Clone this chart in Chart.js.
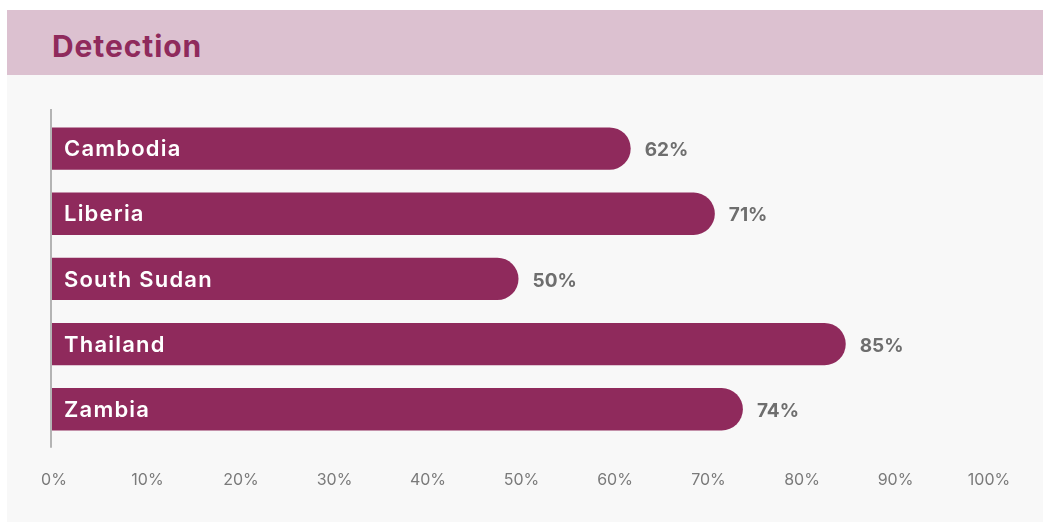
<!DOCTYPE html>
<html>
<head>
<meta charset="utf-8">
<script src="https://cdn.jsdelivr.net/npm/chart.js@4/dist/chart.umd.min.js"></script>
<style>
  html, body { margin: 0; padding: 0; background: #ffffff; }
  #panel {
    position: absolute; left: 7px; top: 10px; width: 1036px; height: 512px;
    background: #f8f8f8;
  }
  #header {
    height: 65px; background: #dcc1d0; position: relative;
  }
  #header h1 {
    margin: 0; position: absolute; left: 45px; top: 18px;
    font-family: "Inter", "Open Sans", sans-serif; font-weight: 700;
    font-size: 30px; line-height: 36px; color: #8f2a5c; letter-spacing: 0.9px;
  }
  #chart { position: absolute; left: 0; top: 65px; }
</style>
</head>
<body>
<div id="panel">
  <div id="header"><h1>Detection</h1></div>
  <canvas id="chart" width="1036" height="447"></canvas>
</div>
<script>
const countries = ["Cambodia", "Liberia", "South Sudan", "Thailand", "Zambia"];
const detection = [62, 71, 50, 85, 74];
const tickLabels = ["0%", "10%", "20%", "30%", "40%", "50%", "60%", "70%", "80%", "90%", "100%"];

const barColor = "#8f2a5c";

// Draw the axis line plus labels inside and beside the bars
const barLabels = {
  id: "barLabels",
  afterDatasetsDraw(chart) {
    const { ctx, chartArea } = chart;
    const meta = chart.getDatasetMeta(0);

    ctx.save();
    ctx.strokeStyle = "#b4b4b4";
    ctx.lineWidth = 2;
    ctx.beginPath();
    ctx.moveTo(chartArea.left, chartArea.top - 7);
    ctx.lineTo(chartArea.left, chartArea.bottom + 6);
    ctx.stroke();

    meta.data.forEach((bar, i) => {
      ctx.textBaseline = "middle";
      ctx.textAlign = "left";
      ctx.fillStyle = "#ffffff";
      ctx.font = "600 22px Inter, sans-serif";
      ctx.letterSpacing = "1.2px";
      ctx.fillText(countries[i], chartArea.left + 13, bar.y + 1);

      ctx.fillStyle = "#6e6e6e";
      ctx.font = "700 19px Inter, sans-serif";
      ctx.letterSpacing = "0px";
      ctx.fillText(detection[i] + "%", bar.x + 14, bar.y + 2);
    });
    ctx.restore();
  }
};

new Chart(document.getElementById("chart"), {
  type: "bar",
  data: {
    labels: countries,
    datasets: [{
      data: detection,
      backgroundColor: barColor,
      borderRadius: 22,
      borderSkipped: "start",
      categoryPercentage: 0.65,
      barPercentage: 1
    }]
  },
  options: {
    indexAxis: "y",
    responsive: false,
    animation: false,
    devicePixelRatio: 1,
    layout: { padding: { left: 44, right: 57, top: 41, bottom: 3 } },
    plugins: {
      legend: { display: false },
      tooltip: { enabled: false }
    },
    scales: {
      x: {
        min: 0,
        max: 100,
        grid: { display: false, drawTicks: false },
        border: { display: false },
        ticks: {
          stepSize: 10,
          padding: 29,
          labelOffset: 3,
          color: "#7a7a7a",
          font: { family: "Inter", size: 16 },
          callback: (v, i) => tickLabels[i]
        }
      },
      y: {
        grid: { display: false, drawTicks: false },
        border: { display: false },
        ticks: { display: false }
      }
    }
  },
  plugins: [barLabels]
});
</script>
</body>
</html>
